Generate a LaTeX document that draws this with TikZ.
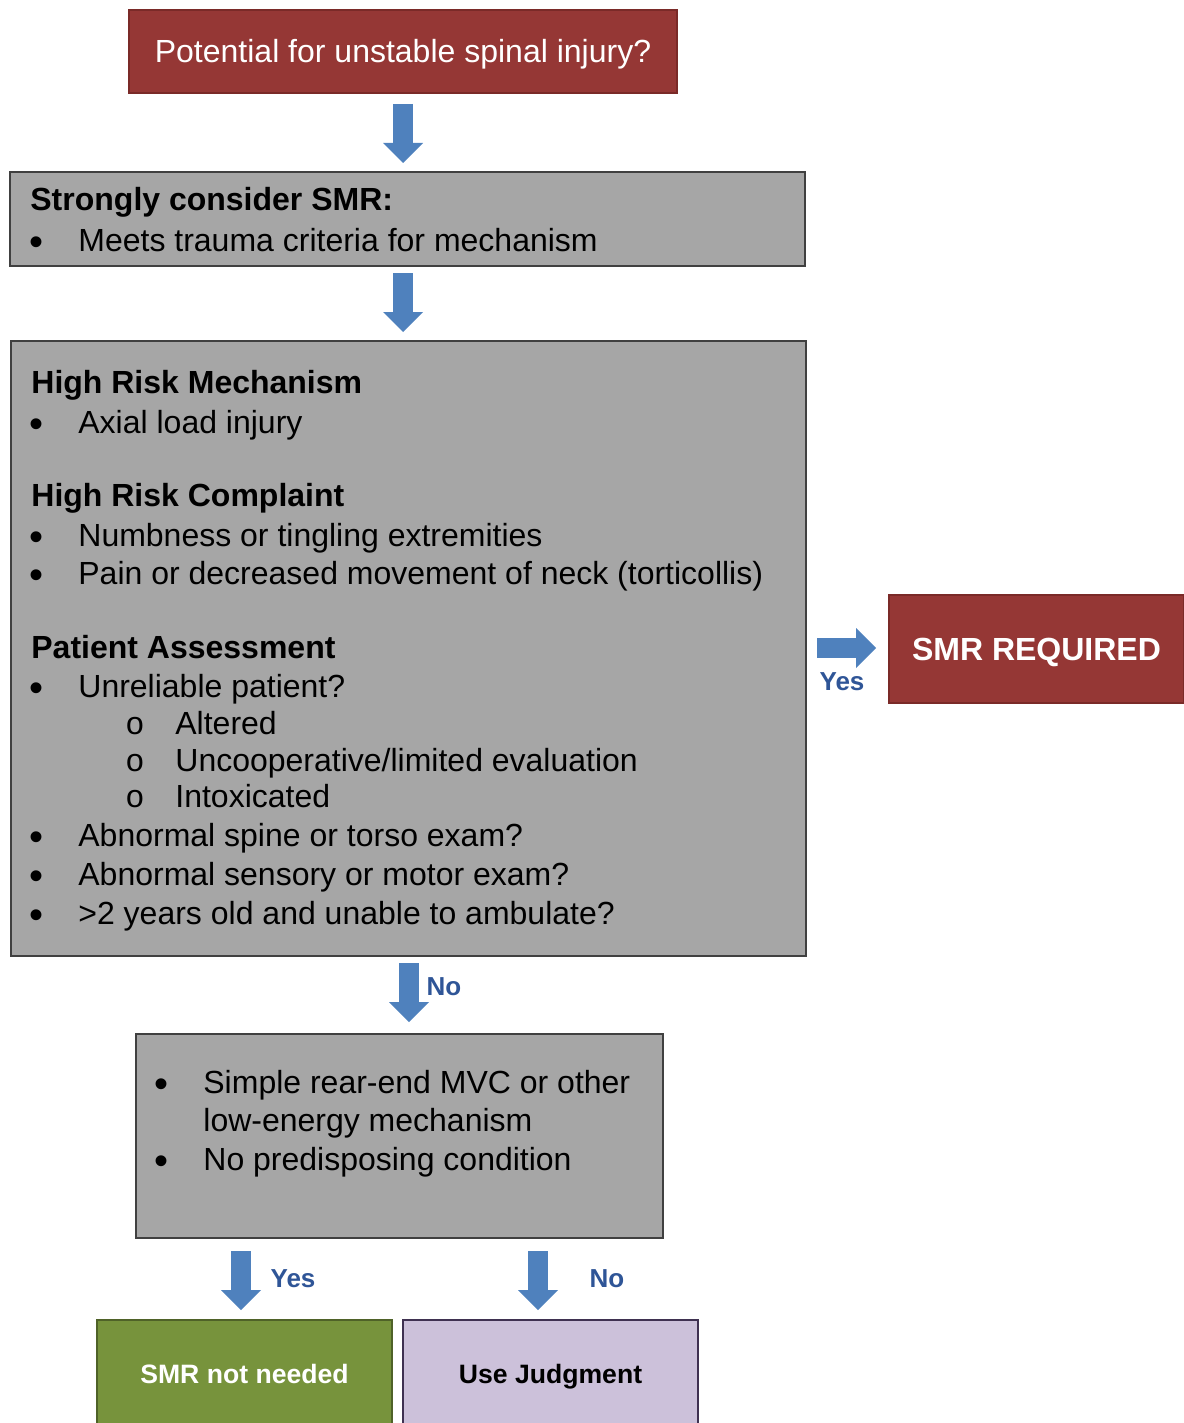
\documentclass[tikz,border=0pt]{standalone}
\usepackage{fontspec}
\usepackage{graphicx}
\setmainfont{Liberation Sans}
\newfontfamily\circfont{Liberation Mono}
\usetikzlibrary{arrows.meta}
\definecolor{smrred}{HTML}{953735}
\definecolor{smrredline}{HTML}{7A2A28}
\definecolor{boxgray}{HTML}{A6A6A6}
\definecolor{boxline}{HTML}{404040}
\definecolor{arrowblue}{HTML}{4F81BD}
\definecolor{labelblue}{HTML}{2F5597}
\definecolor{okgreen}{HTML}{77933C}
\definecolor{okgreenline}{HTML}{4F6228}
\definecolor{lav}{HTML}{CCC1DA}
\definecolor{lavline}{HTML}{3F3151}
\newcommand{\bigbul}{\scalebox{1.25}{•}}
\begin{document}
\begin{tikzpicture}[x=0.5pt,y=-0.5pt,
  box/.style={draw, line width=1pt, anchor=north west, inner sep=0pt},
  graybox/.style={box, fill=boxgray, draw=boxline},
  redbox/.style={box, fill=smrred, draw=smrredline, text=white},
  body/.style={font=\fontsize{16}{19}\selectfont, anchor=base west, inner sep=0pt},
  head/.style={font=\fontsize{16}{19}\selectfont\bfseries, anchor=base west, inner sep=0pt},
  dot/.style={font=\fontsize{16}{19}\selectfont, anchor=base, inner sep=0pt, yshift=-2.3pt,
              text height=9pt, text depth=0pt},
  circ/.style={font=\fontsize{16}{19}\circfont, anchor=base, inner sep=0pt},
  lab/.style={font=\fontsize{13}{15}\selectfont\bfseries, text=labelblue, anchor=base, inner sep=0pt},
  blockarrow/.style={draw=arrowblue, line width=10pt, -{Triangle[length=10pt, width=20pt, line width=0pt]}}
]
\useasboundingbox (0,0) rectangle (1183,1423);

% boxes
\node[redbox, minimum width=274pt, minimum height=41.5pt,
      font=\fontsize{16}{19}\selectfont, text height=11.5pt, text depth=0pt]
      (q) at (128,9) {Potential for unstable spinal injury?};
\node[graybox, minimum width=397.5pt, minimum height=47pt] (b2) at (9,171) {};
\node[graybox, minimum width=397.5pt, minimum height=307.5pt] (b3) at (10,340) {};
\node[redbox, minimum width=147.5pt, minimum height=54pt,
      font=\fontsize{16}{19}\selectfont\bfseries, text height=11.5pt, text depth=0pt]
      (req) at (888,594) {SMR REQUIRED};
\node[graybox, minimum width=263.5pt, minimum height=102pt] (b4) at (135,1033) {};
\node[box, fill=okgreen, draw=okgreenline, text=white, minimum width=147.5pt, minimum height=54pt,
      font=\fontsize{13.3}{15}\selectfont\bfseries, text height=9.5pt, text depth=0pt]
      (ok) at (96,1319) {SMR not needed};
\node[box, fill=lav, draw=lavline, text=black, minimum width=147.5pt, minimum height=54pt,
      font=\fontsize{13.3}{15}\selectfont\bfseries, text height=9.5pt, text depth=0pt]
      (judg) at (402,1319) {Use Judgment};

% box 2 text
\node[head] (t2a) at (30,211) {Strongly consider SMR:};
\node[dot]  (d2a) at (37,251) {\bigbul};
\node[body] (t2b) at (78,251) {Meets trauma criteria for mechanism};

% box 3 text
\node[head] (h1) at (31,393) {High Risk Mechanism};
\node[dot]  (d1) at (37,433) {\bigbul};
\node[body] (l1) at (78,433) {Axial load injury};
\node[head] (h2) at (31,506) {High Risk Complaint};
\node[dot]  (d2) at (37,546) {\bigbul};
\node[body] (l2) at (78,546) {Numbness or tingling extremities};
\node[dot]  (d3) at (37,584) {\bigbul};
\node[body] (l3) at (78,584) {Pain or decreased movement of neck (torticollis)};
\node[head] (h3) at (31,658) {Patient Assessment};
\node[dot]  (d4) at (37,697) {\bigbul};
\node[body] (l4) at (78,697) {Unreliable patient?};
\node[circ] (c1) at (135,734) {o};
\node[body] (s1) at (175,734) {Altered};
\node[circ] (c2) at (135,771) {o};
\node[body] (s2) at (175,771) {Uncooperative/limited evaluation};
\node[circ] (c3) at (135,807) {o};
\node[body] (s3) at (175,807) {Intoxicated};
\node[dot]  (d5) at (37,846) {\bigbul};
\node[body] (l5) at (78,846) {Abnormal spine or torso exam?};
\node[dot]  (d6) at (37,885) {\bigbul};
\node[body] (l6) at (78,885) {Abnormal sensory or motor exam?};
\node[dot]  (d7) at (37,924) {\bigbul};
\node[body] (l7) at (78,924) {>2 years old and unable to ambulate?};

% box 4 text
\node[dot]  (d8) at (162,1093) {\bigbul};
\node[body] (m1) at (203,1093) {Simple rear-end MVC or other};
\node[body] (m2) at (203,1131) {low-energy mechanism};
\node[dot]  (d9) at (162,1170) {\bigbul};
\node[body] (m3) at (203,1170) {No predisposing condition};

% connectors
\coordinate (a1) at (403,92);
\draw[blockarrow, shorten <=6pt, shorten >=4pt] (a1) -- (a1 |- b2.north);
\coordinate (a2) at (403,265);
\draw[blockarrow, shorten <=4pt, shorten >=4pt] (a2) -- (a2 |- b3.north);
\coordinate (a3) at (805,648);
\draw[blockarrow, shorten <=6pt, shorten >=6pt] (a3) -- (a3 -| req.west);
\coordinate (a4) at (409,955);
\draw[blockarrow, shorten <=4pt, shorten >=5.5pt] (a4) -- (a4 |- b4.north);
\coordinate (a5) at (241,1237);
\draw[blockarrow, shorten <=7pt, shorten >=4.5pt] (a5) -- (a5 |- ok.north);
\coordinate (a6) at (538,1237);
\draw[blockarrow, shorten <=7pt, shorten >=4.5pt] (a6) -- (a6 |- judg.north);

% labels
\node[lab] (yes1) at (842,690) {Yes};
\node[lab] (no1) at (444,995) {No};
\node[lab] (yes2) at (293,1287) {Yes};
\node[lab] (no2) at (607,1287) {No};
\end{tikzpicture}
\end{document}
